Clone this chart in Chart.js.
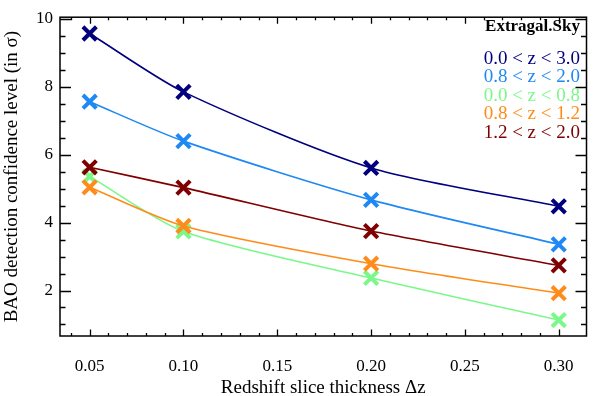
<!DOCTYPE html>
<html>
<head>
<meta charset="utf-8">
<script src="https://cdn.jsdelivr.net/npm/chart.js@4"></script>
<style>
  html, body { margin: 0; padding: 0; background: #fff; }
  #wrap { width: 600px; height: 396px; }
</style>
</head>
<body>
<div id="wrap"><canvas id="c" width="600" height="396"></canvas></div>
<script>
const dz = [0.05, 0.10, 0.20, 0.30];
const z00_30 = [9.57, 7.85, 5.61, 4.48];
const z08_20 = [7.56, 6.40, 4.67, 3.36];
const z00_08 = [5.36, 3.74, 2.37, 1.13];
const z08_12 = [5.04, 3.90, 2.79, 1.92];
const z12_20 = [5.63, 5.03, 3.75, 2.74];

const seriesNames = ['0.0 < z < 3.0', '0.8 < z < 2.0', '0.0 < z < 0.8', '0.8 < z < 1.2', '1.2 < z < 2.0'];
const seriesColors = ['#00007f', '#1e88f5', '#7cf88a', '#ff8c1a', '#7f0000'];
const seriesValues = [z00_30, z08_20, z00_08, z08_12, z12_20];
const drawOrder = [5, 4, 3, 2, 1];

const xMajor = [0.05, 0.10, 0.15, 0.20, 0.25, 0.30];
const yMajor = [2, 4, 6, 8, 10];

const serif = "'Liberation Serif', 'DejaVu Serif', serif";

const datasets = seriesValues.map((vals, i) => ({
	label: seriesNames[i],
	data: vals.map((v, j) => ({ x: dz[j], y: v })),
	borderColor: seriesColors[i],
	backgroundColor: seriesColors[i],
	borderWidth: 1.6,
	pointStyle: 'crossRot',
	pointRadius: 9.5,
	pointBorderWidth: 4,
	pointHoverRadius: 9.5,
	tension: 0.25,
	order: drawOrder[i]
}));

// inward ticks on all four sides, like the original plot
const tickMarks = {
	id: 'tickMarks',
	afterDraw(chart) {
		const { ctx, chartArea: a, scales: { x, y } } = chart;
		ctx.save();
		ctx.strokeStyle = '#000';
		ctx.lineWidth = 1.3;
		ctx.beginPath();
		for (let k = 0; k <= 30; k++) {
			const v = 0.01 * k;
			if (v < x.min || v > x.max) continue;
			const px = Math.round(x.getPixelForValue(v)) + 0.5;
			const len = k % 5 === 0 ? 6.5 : 3;
			ctx.moveTo(px, a.bottom); ctx.lineTo(px, a.bottom - len);
			ctx.moveTo(px, a.top); ctx.lineTo(px, a.top + len);
		}
		for (let k = 0; k <= 20; k++) {
			const v = 0.5 * k;
			if (v < y.min || v > y.max) continue;
			const py = Math.round(y.getPixelForValue(v)) + 0.5;
			const len = k % 4 === 0 ? 11 : 5.5;
			ctx.moveTo(a.left, py); ctx.lineTo(a.left + len, py);
			ctx.moveTo(a.right, py); ctx.lineTo(a.right - len, py);
		}
		ctx.stroke();
		ctx.lineWidth = 1.5;
		ctx.strokeRect(a.left, a.top, a.right - a.left, a.bottom - a.top);

		// text legend in the upper right
		ctx.textAlign = 'right';
		ctx.textBaseline = 'middle';
		ctx.fillStyle = '#000';
		ctx.font = 'bold 17px ' + serif;
		ctx.fillText('Extragal.Sky', 580, 27);
		ctx.font = '19px ' + serif;
		seriesNames.forEach((name, i) => {
			ctx.fillStyle = seriesColors[i];
			ctx.fillText(name, 580, 59 + i * 18.5);
		});
		ctx.restore();
	}
};

new Chart(document.getElementById('c'), {
	type: 'line',
	data: { datasets },
	options: {
		responsive: false,
		animation: false,
		layout: { padding: { top: 5, right: 4, left: 0, bottom: 0 } },
		plugins: {
			legend: { display: false },
			tooltip: { enabled: false }
		},
		scales: {
			x: {
				type: 'linear',
				min: 0.0342,
				max: 0.3148,
				grid: { display: false, drawTicks: false },
				border: { display: false },
				afterBuildTicks: s => { s.ticks = xMajor.map(v => ({ value: v })); },
				afterFit: s => { s.height = 60; },
				ticks: {
					color: '#000',
					padding: 20,
					font: { family: serif, size: 17 },
					callback: v => v.toFixed(2)
				},
				title: {
					display: true,
					text: 'Redshift slice thickness Δz',
					color: '#000',
					padding: { top: 0, bottom: 0 },
					font: { family: serif, size: 19, lineHeight: 0.8 }
				}
			},
			y: {
				min: 0.66,
				max: 10.05,
				grid: { display: false, drawTicks: false },
				border: { display: false },
				afterBuildTicks: s => { s.ticks = yMajor.map(v => ({ value: v })); },
				afterFit: s => { s.width = 60; },
				ticks: {
					color: '#000',
					padding: 7,
					font: { family: serif, size: 17 }
				},
				title: {
					display: true,
					text: 'BAO detection confidence level (in σ)',
					color: '#000',
					padding: { top: 1, bottom: 0 },
					font: { family: serif, size: 19 }
				}
			}
		}
	},
	plugins: [tickMarks]
});
</script>
</body>
</html>
